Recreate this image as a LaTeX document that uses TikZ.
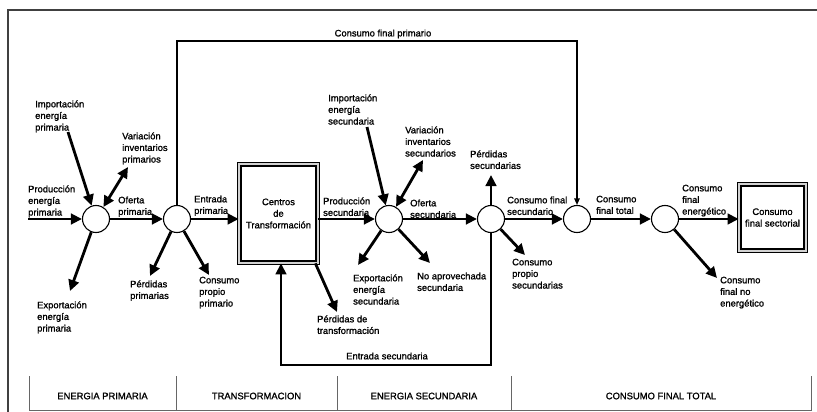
\documentclass[tikz,border=0pt]{standalone}
\usepackage{fontspec}
\setmainfont{Liberation Sans}[FakeBold=1.2]
\usetikzlibrary{arrows.meta}
\begin{document}
\begin{tikzpicture}[x=1pt,y=-1pt,
  lbl/.style={anchor=north west, inner sep=0pt, align=left, font=\fontsize{9.4}{11.6}\selectfont},
  clbl/.style={inner sep=0pt, align=center, font=\fontsize{9.4}{11.6}\selectfont},
  hub/.style={circle, draw, line width=1.1pt, minimum size=27pt, inner sep=0pt, fill=white},
  flow/.style={line width=2.8pt, -{Triangle[length=11pt,width=10.5pt]}},
  flowtwo/.style={line width=2.8pt, {Triangle[length=11pt,width=10.5pt]}-{Triangle[length=11pt,width=10.5pt]}},
  slim/.style={line width=1.2pt, -{Triangle[length=6.5pt,width=5.5pt]}},
  dbox/.style={draw, double=gray!35, double distance=2pt, line width=1.3pt, inner sep=0pt, align=center, font=\fontsize{9.4}{11.6}\selectfont},
  framel/.style={draw=black!75, line width=1.6pt},
  tline/.style={draw=black!60, line width=1pt}]
\useasboundingbox (0,0) rectangle (817,412);
% frame
\draw[framel] (817,10) -- (8,10) -- (8,412);
% hubs
\node[hub] (C1) at (96,219) {};
\node[hub] (C2) at (177,219) {};
\node[hub] (C3) at (389,219) {};
\node[hub] (C4) at (491,219) {};
\node[hub] (C5) at (577,219) {};
\node[hub] (C6) at (665,219) {};
% boxes
\node[dbox, minimum width=78.4pt, minimum height=98.4pt] (T) at (278.5,213.5) {Centros\\de\\Transformación};
\node[dbox, minimum width=66.4pt, minimum height=66.4pt] (S) at (772.5,217.5) {Consumo\\final sectorial};
% free ends
\coordinate (pIn) at (28,219);
\coordinate (iIn) at (68,132);
\coordinate (vOut) at (128,167);
\coordinate (eOut) at (70,291);
\coordinate (ppOut) at (150,276);
\coordinate (cpOut) at (209,275);
\coordinate (isIn) at (367,127);
\coordinate (vsOut) at (423,160);
\coordinate (esOut) at (358,265);
\coordinate (naOut) at (430,263);
\coordinate (ptOut) at (337,312);
\coordinate (psOut) at (491,175);
\coordinate (csOut) at (525,255);
\coordinate (neOut) at (717,278);
\coordinate (esc) at (281,365);
\coordinate (cfp) at (577,41);
% primary
\draw[flow] (pIn) -- (C1);
\draw[flow] (iIn) -- (C1);
\draw[flowtwo] (C1) -- (vOut);
\draw[flow] (C1) -- (eOut);
\draw[flow] (C1) -- (C2);
\draw[flow] (C2) -- (ppOut);
\draw[flow] (C2) -- (cpOut);
\draw[flow] (C2) -- (C2 -| T.west);
% transformation / secondary
\draw[flow] (T.east |- C3) -- (C3);
\draw[flow] ([xshift=-3pt]T.south east) -- (ptOut);
\draw[flow] (isIn) -- (C3);
\draw[flowtwo] (C3) -- (vsOut);
\draw[flow] (C3) -- (esOut);
\draw[flow] (C3) -- (naOut);
\draw[flow] (C3) -- (C4);
\draw[flow] (C4) -- (psOut);
\draw[flow] (C4) -- (csOut);
\draw[flow] (C4) -- (C5);
\draw[flow] (C5) -- (C6);
\draw[flow] (C6) -- (C6 -| S.west);
\draw[flow] (C6) -- (neOut);
\draw[flow] (C4.south) |- (esc) -- (esc |- T.south);
\draw[slim] (C2.north) |- (cfp) -- (C5.north);
% labels
\node[lbl] at (35,99) {\strut Importación\\energía\\primaria};
\node[lbl] at (122,131) {\strut Variación\\inventarios\\primarios};
\node[lbl] at (28,184) {\strut Producción\\energía\\primaria};
\node[lbl] at (118,195) {\strut Oferta\\primaria};
\node[lbl] at (194,194) {\strut Entrada\\primaria};
\node[lbl] at (130,279) {\strut Pérdidas\\primarias};
\node[lbl] at (199,275) {\strut Consumo\\propio\\primario};
\node[lbl] at (37,300) {\strut Exportación\\energía\\primaria};
\node[lbl] at (328,93) {\strut Importación\\energía\\secundaria};
\node[lbl] at (405,125) {\strut Variación\\inventarios\\secundarios};
\node[lbl] at (470,149) {\strut Pérdidas\\secundarias};
\node[lbl] at (323,196) {\strut Producción\\secundaria};
\node[lbl] at (410,198) {\strut Oferta\\secundaria};
\node[lbl] at (353,273) {\strut Exportación\\energía\\secundaria};
\node[lbl] at (417,271) {\strut No aprovechada\\secundaria};
\node[lbl] at (317,314) {\strut Pérdidas de\\transformación};
\node[lbl] at (507,195) {\strut Consumo final\\secundario};
\node[lbl] at (596,194) {\strut Consumo\\final total};
\node[lbl] at (682,183) {\strut Consumo\\final\\energético};
\node[lbl] at (512,257) {\strut Consumo\\propio\\secundarias};
\node[lbl] at (720,275) {\strut Consumo\\final no\\energético};
\node[clbl] (cfpl) at (383,34) {Consumo final primario};
\node[clbl] (escl) at (387,356) {Entrada secundaria};
% table
\draw[tline] (29,376) -- (29,410) -- (811,410) -- (811,376);
\draw[tline] (176,376) -- (176,410);
\draw[tline] (337,376) -- (337,410);
\draw[tline] (511,376) -- (511,410);
\node[clbl] (h1) at (102.5,396) {ENERGIA PRIMARIA};
\node[clbl] (h2) at (256.5,396) {TRANSFORMACION};
\node[clbl] (h3) at (424,396) {ENERGIA SECUNDARIA};
\node[clbl] (h4) at (661,396) {CONSUMO FINAL TOTAL};
\end{tikzpicture}
\end{document}
